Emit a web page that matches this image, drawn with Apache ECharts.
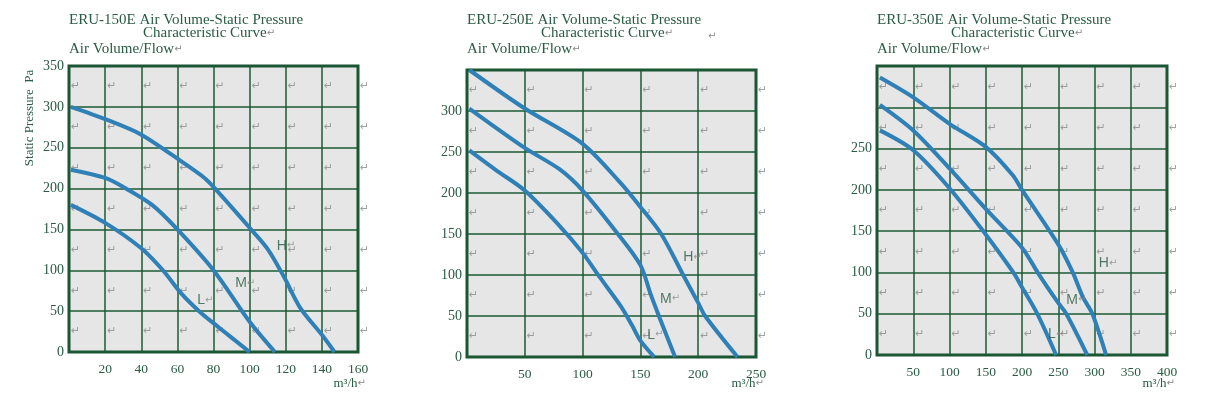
<!DOCTYPE html>
<html>
<head>
<meta charset="utf-8">
<script src="https://cdn.jsdelivr.net/npm/echarts@6/dist/echarts.min.js"></script>
<style>
  html, body { margin: 0; padding: 0; background: #fff; }
  #chart { width: 1215px; height: 408px; }
</style>
</head>
<body>
<div id="chart"></div>
<script>
// ---- data ----
const models = ['ERU-150E', 'ERU-250E', 'ERU-350E'];
const xMax = [160, 250, 400];
const xStep = [20, 50, 50];
const yMax = [350, 350, 350];
const yLabelMax = [350, 300, 250];   // highest printed y tick per chart

// [airflow m3/h, static pressure Pa]
const h150 = [[1, 300], [20, 285], [40, 266], [63, 232], [75, 213], [80, 202], [100, 152], [110, 126], [119, 92], [128, 54], [140, 21], [147, 0]];
const m150 = [[1, 223], [20, 213], [30, 202], [46, 180], [60, 150], [80, 100], [100, 37], [114, 0]];
const l150 = [[1, 180], [20, 158], [40, 127], [52, 100], [62, 72], [72, 50], [83, 30], [100, 0]];

const h250 = [[2, 350], [50, 303], [100, 260], [133, 212], [150, 183], [168, 150], [187, 100], [200, 66], [206, 50], [234, 0]];
const m250 = [[2, 303], [50, 255], [80, 229], [100, 203], [130, 151], [150, 112], [159, 76], [166, 50], [180, 0]];
const l250 = [[2, 252], [25, 228], [50, 203], [80, 160], [100, 127], [115, 97], [133, 62], [143, 38], [150, 20], [162, 0]];

const h350 = [[4, 336], [50, 312], [100, 280], [150, 252], [187, 218], [200, 200], [250, 134], [270, 100], [284, 70], [297, 50], [316, 0]];
const m350 = [[4, 303], [50, 272], [100, 226], [150, 177], [200, 130], [223, 98], [250, 63], [261, 50], [290, 0]];
const l350 = [[4, 272], [50, 248], [100, 202], [150, 146], [188, 100], [200, 82], [221, 50], [247, 0]];

const curves = [[h150, m150, l150], [h250, m250, l250], [h350, m350, l350]];

// curve tags H / M / L: anchor = left edge of the letter
const tagNames = ['H', 'M', 'L'];
const tagPos = [
  [[115, 130], [92, 84], [71, 63]],
  [[187, 122], [167, 71], [156, 27]],
  [[306, 111], [261, 67], [236, 25]]
];

const rowMids = [25, 75, 125, 175, 225, 275, 325];

// ---- layout ----
const grids = [
  { left: 69, top: 66, width: 289, height: 286 },
  { left: 467, top: 70, width: 289, height: 287 },
  { left: 877, top: 66, width: 290, height: 289 }
];

const SERIF = '"Liberation Serif", "DejaVu Serif", serif';
const TXT = '#2a5c45';
const LINE = '#1d5a33';
const FRAME = '#1a5234';
const CURVE = '#2f80b6';
const MARK = '#8a8a8a';

const chart = echarts.init(document.getElementById('chart'));

const xAxes = [], yAxes = [], series = [], graphics = [];

grids.forEach((g, i) => {
  xAxes.push({
    gridIndex: i, type: 'value', min: 0, max: xMax[i], interval: xStep[i],
    axisLine: { show: false }, axisTick: { show: false },
    axisLabel: {
      showMinLabel: false, margin: 10,
      color: TXT, fontFamily: SERIF, fontSize: 13.5
    },
    splitLine: { show: true, lineStyle: { color: LINE, width: 1.5 } }
  });
  yAxes.push({
    gridIndex: i, type: 'value', min: 0, max: yMax[i], interval: 50,
    axisLine: { show: false }, axisTick: { show: false },
    axisLabel: {
      margin: 5, color: TXT, fontFamily: SERIF, fontSize: 14,
      formatter: v => (v > yLabelMax[i] ? '' : String(v))
    },
    splitLine: { show: true, lineStyle: { color: LINE, width: 1.5 } }
  });

  // paragraph marks left in the scanned figure
  const marks = [];
  for (let x = 0; x <= xMax[i]; x += xStep[i]) {
    for (const y of rowMids) marks.push([x, y]);
  }
  series.push({
    type: 'scatter', xAxisIndex: i, yAxisIndex: i, data: marks,
    symbolSize: 0, clip: false, silent: true, z: 1,
    label: {
      show: true, position: 'right', distance: 2, formatter: '\u21b5',
      color: MARK, fontSize: 11, fontFamily: 'DejaVu Sans'
    }
  });

  curves[i].forEach(c => {
    series.push({
      type: 'line', xAxisIndex: i, yAxisIndex: i, data: c,
      smooth: 0.3, symbol: 'none', z: 3,
      lineStyle: { color: CURVE, width: 4 }
    });
  });

  series.push({
    type: 'scatter', xAxisIndex: i, yAxisIndex: i,
    data: tagPos[i].map((p, k) => ({ value: p, name: tagNames[k] })),
    symbolSize: 0, silent: true, z: 4,
    label: {
      show: true, position: 'right', distance: 0,
      formatter: p => '{t|' + p.name + '}{m|\u21b5}',
      rich: {
        t: { color: TXT, fontSize: 14, fontFamily: '"Liberation Sans", Arial, sans-serif' },
        m: { color: MARK, fontSize: 10, fontFamily: 'DejaVu Sans' }
      }
    }
  });

  // titles
  graphics.push({
    type: 'text', left: g.left, top: 13,
    style: { text: models[i] + ' Air Volume-Static Pressure', fill: TXT, font: '15px ' + SERIF }
  });
  graphics.push({
    type: 'text', left: g.left + 74, top: 26,
    style: {
      text: '{a|Characteristic Curve}{b|\u21b5}',
      rich: {
        a: { fill: TXT, font: '15px ' + SERIF },
        b: { fill: MARK, font: '10px DejaVu Sans' }
      }
    }
  });
  graphics.push({
    type: 'text', left: g.left, top: 42,
    style: {
      text: '{a|Air Volume/Flow}{b|\u21b5}',
      rich: {
        a: { fill: TXT, font: '15px ' + SERIF },
        b: { fill: MARK, font: '10px DejaVu Sans' }
      }
    }
  });
  // unit under the x axis
  graphics.push({
    type: 'text', right: 1215 - (g.left + g.width) - 8, top: 377,
    style: {
      text: '{a|m\u00b3/h}{b|\u21b5}',
      rich: {
        a: { fill: TXT, font: '13px ' + SERIF },
        b: { fill: MARK, font: '10px DejaVu Sans' }
      }
    }
  });
});

// y axis name on the first chart only
graphics.push({
  type: 'text', x: 30, y: 118, rotation: Math.PI / 2,
  style: {
    text: 'Static Pressure  Pa', fill: TXT, font: '13px ' + SERIF,
    align: 'center', verticalAlign: 'middle'
  }
});
// stray mark after the 250E title
graphics.push({
  type: 'text', left: 708, top: 31,
  style: { text: '\u21b5', fill: MARK, font: '10px DejaVu Sans' }
});

chart.setOption({
  animation: false,
  grid: grids.map(g => Object.assign({
    show: true, backgroundColor: '#e6e6e6', borderColor: FRAME, borderWidth: 3
  }, g)),
  xAxis: xAxes,
  yAxis: yAxes,
  series: series,
  graphic: graphics
});
</script>
</body>
</html>
